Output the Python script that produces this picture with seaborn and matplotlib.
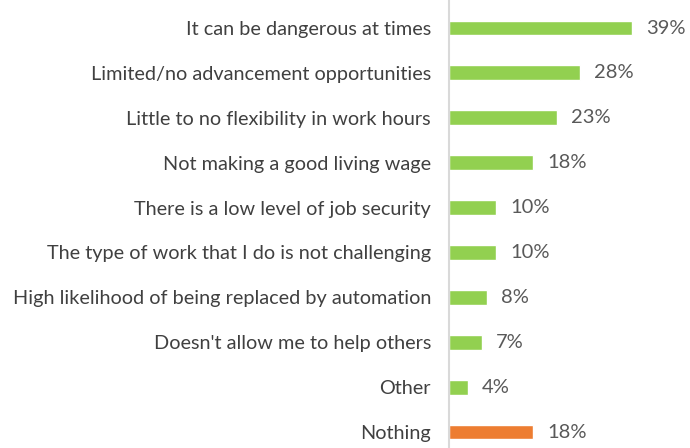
import matplotlib
matplotlib.use("Agg")
import matplotlib.pyplot as plt
import seaborn as sns
import pandas as pd

categories = [
    "It can be dangerous at times",
    "Limited/no advancement opportunities",
    "Little to no flexibility in work hours",
    "Not making a good living wage",
    "There is a low level of job security",
    "The type of work that I do is not challenging",
    "High likelihood of being replaced by automation",
    "Doesn't allow me to help others",
    "Other",
    "Nothing",
]
values = [39, 28, 23, 18, 10, 10, 8, 7, 4, 18]
colors = ["#92D050"] * 9 + ["#ED7D31"]

sns.set_theme(style="white")
plt.rcParams["font.family"] = ["Lato", "DejaVu Sans"]

df = pd.DataFrame({"cat": categories, "val": values})

fig = plt.figure(figsize=(6.9, 4.48), dpi=100)
ax = fig.add_axes([449 / 690, 0, 241 / 690, 1])
sns.barplot(data=df, x="val", y="cat", hue="cat", palette=colors, legend=False,
            width=0.33, ax=ax, saturation=1)

ax.set_xlim(0, 51.4)
ax.set_ylim(9.356, -0.624)
ax.set_xlabel("")
ax.set_ylabel("")
ax.set_xticks([])
for s in ["top", "right", "bottom"]:
    ax.spines[s].set_visible(False)
ax.spines["left"].set_color("#D9D9D9")
ax.spines["left"].set_linewidth(1.5)
ax.tick_params(axis="y", length=0, pad=13, labelsize=14.3, labelcolor="#404040")

for i, v in enumerate(values):
    ax.text(v + 3, i, f"{v}%", va="center", ha="left", fontsize=14.5, color="#595959")

fig.savefig("out.png", dpi=100)
